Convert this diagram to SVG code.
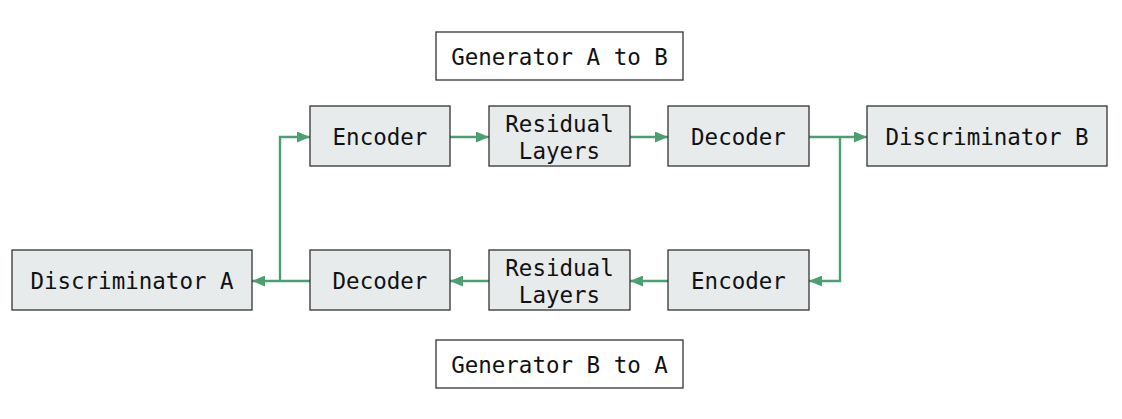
<svg xmlns="http://www.w3.org/2000/svg" width="1122" height="419" viewBox="0 0 1122 419">
<style>
.box{fill:#e8ebec;stroke:#333;stroke-width:1.3}
.lbl{fill:#fff;stroke:#333;stroke-width:1.3}
text{font-family:"DejaVu Sans Mono","Liberation Mono",monospace;font-size:22.5px;fill:#111;text-anchor:middle;dominant-baseline:central}
.c{fill:none;stroke:#4c9f70;stroke-width:2.4}
</style>
<defs>
<marker id="ah" viewBox="0 0 13 11" refX="13" refY="5.5" markerWidth="13" markerHeight="11" markerUnits="userSpaceOnUse" orient="auto">
<path d="M0,0L13,5.5L0,11z" fill="#4c9f70"/>
</marker>
</defs>
<rect width="1122" height="419" fill="#fff"/>
<g id="connectors">
<path class="c" d="M310,281H252" marker-end="url(#ah)"/>
<path class="c" d="M280,281V137H310" marker-end="url(#ah)"/>
<path class="c" d="M450,137H489" marker-end="url(#ah)"/>
<path class="c" d="M630,137H668" marker-end="url(#ah)"/>
<path class="c" d="M809,137H867" marker-end="url(#ah)"/>
<path class="c" d="M840,137V281H809" marker-end="url(#ah)"/>
<path class="c" d="M668,281H630" marker-end="url(#ah)"/>
<path class="c" d="M489,281H450" marker-end="url(#ah)"/>
</g>
<g id="genAB"><rect class="lbl" x="436" y="32" width="247" height="48"/><text x="559.5" y="56.5">Generator A to B</text></g>
<g id="genBA"><rect class="lbl" x="436" y="340" width="247" height="48"/><text x="559.5" y="364.5">Generator B to A</text></g>
<g id="encA"><rect class="box" x="310" y="106" width="140" height="60"/><text x="380" y="137">Encoder</text></g>
<g id="resA"><rect class="box" x="489" y="106" width="141" height="60"/><text x="559.5" y="123.5">Residual</text><text x="559.5" y="150.5">Layers</text></g>
<g id="decA"><rect class="box" x="668" y="106" width="141" height="60"/><text x="738.5" y="137">Decoder</text></g>
<g id="discB"><rect class="box" x="867" y="106" width="240" height="60"/><text x="987" y="137">Discriminator B</text></g>
<g id="discA"><rect class="box" x="12" y="250" width="240" height="60"/><text x="132" y="281">Discriminator A</text></g>
<g id="decB"><rect class="box" x="310" y="250" width="140" height="60"/><text x="380" y="281">Decoder</text></g>
<g id="resB"><rect class="box" x="489" y="250" width="141" height="60"/><text x="559.5" y="267.5">Residual</text><text x="559.5" y="294.5">Layers</text></g>
<g id="encB"><rect class="box" x="668" y="250" width="141" height="60"/><text x="738.5" y="281">Encoder</text></g>
</svg>
